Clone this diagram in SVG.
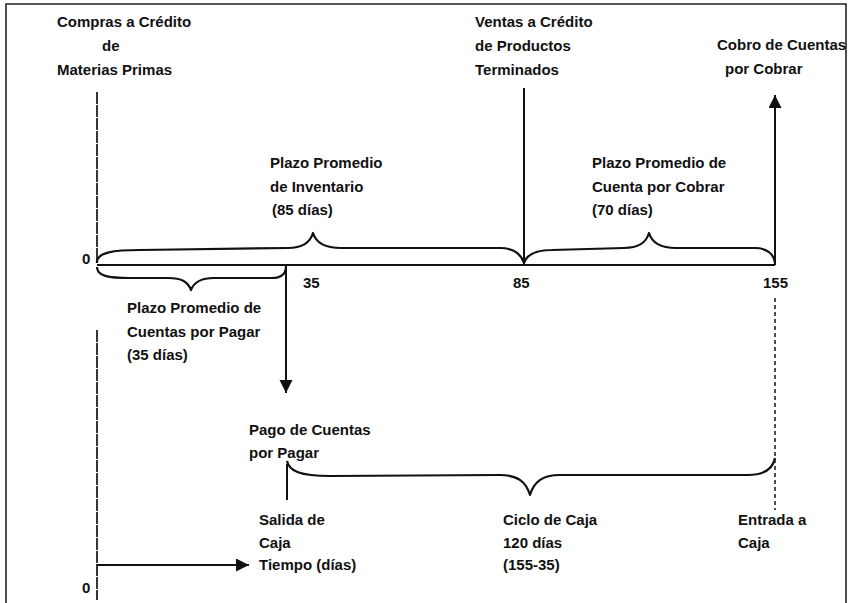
<svg xmlns="http://www.w3.org/2000/svg" width="854" height="603" viewBox="0 0 854 603">
  <defs>
    <style>
      .t { font-family: "Liberation Sans", Arial, sans-serif; font-size: 15px; font-weight: bold; fill: #111; }
      .ln { stroke: #111; stroke-width: 2; fill: none; }
      .br { stroke: #111; stroke-width: 2.2; fill: none; stroke-linejoin: round; }
      .dash { stroke: #222; stroke-width: 1.6; fill: none; stroke-dasharray: 4 3; }
      .axis { stroke: #222; stroke-width: 1.8; fill: none; stroke-dasharray: 12 1; }
      .frame { stroke: #222; stroke-width: 1.6; fill: none; }
    </style>
    <marker id="arrow" markerUnits="userSpaceOnUse" markerWidth="14" markerHeight="14" refX="13" refY="6.5" orient="auto">
      <path d="M0,0 L13,6.5 L0,13 z" fill="#111"/>
    </marker>
  </defs>
  <rect width="854" height="603" fill="#fff"/>

  <g id="frame">
    <path class="frame" d="M6,603 L6,4 L846,4 L846,603"/>
  </g>

  <g id="connectors">
    <line class="axis" x1="97" y1="92" x2="97" y2="262"/>
    <line class="axis" x1="97" y1="330" x2="97" y2="600"/>
    <line class="ln" x1="97" y1="265" x2="775" y2="265"/>
    <path class="br" d="M97,263 C96,252 115,250 140,250 L288,248 C302,248 310,243 313,233 C316,243 326,248 341,248 L500,248 C514,248 521,254 524,263"/>
    <path class="br" d="M524,263 C527,254 536,250 552,250 L624,248 C639,248 646,243 649,233 C652,243 661,248 676,248 L755,248 C768,248 774,255 775,263"/>
    <path class="br" d="M97,267 C97,276 108,278 130,278 L168,278 C182,278 188,282 191,290 C194,282 201,278 214,278 L272,278 C282,278 286,273 286,266"/>
    <line class="ln" x1="524" y1="88" x2="524" y2="265"/>
    <line class="ln" x1="775" y1="265" x2="775" y2="95" marker-end="url(#arrow)"/>
    <line class="ln" x1="286" y1="265" x2="286" y2="393" marker-end="url(#arrow)"/>
    <path class="br" d="M287,461 C289,471 300,476 330,476 L500,475 C518,475 526,482 530,495 C534,482 542,475 560,475 L748,475 C765,475 773,468 775,458"/>
    <line class="ln" x1="287" y1="464" x2="287" y2="500"/>
    <line class="dash" x1="775" y1="298" x2="775" y2="510"/>
    <line class="ln" x1="97" y1="565" x2="249" y2="565" marker-end="url(#arrow)"/>
  </g>

  <g id="compras">
    <text class="t" x="57" y="27">Compras a Crédito</text>
    <text class="t" x="102" y="51">de</text>
    <text class="t" x="57" y="75">Materias Primas</text>
  </g>
  <g id="ventas">
    <text class="t" x="475" y="27">Ventas a Crédito</text>
    <text class="t" x="475" y="51">de Productos</text>
    <text class="t" x="475" y="75">Terminados</text>
  </g>
  <g id="cobro">
    <text class="t" x="717" y="50">Cobro de Cuentas</text>
    <text class="t" x="725" y="74">por Cobrar</text>
  </g>
  <g id="plazo-inventario">
    <text class="t" x="270" y="168">Plazo Promedio</text>
    <text class="t" x="270" y="192">de Inventario</text>
    <text class="t" x="272" y="215">(85 días)</text>
  </g>
  <g id="plazo-cobrar">
    <text class="t" x="592" y="168">Plazo Promedio de</text>
    <text class="t" x="592" y="192">Cuenta por Cobrar</text>
    <text class="t" x="592" y="215">(70 días)</text>
  </g>
  <g id="ticks">
    <text class="t" x="82" y="264">0</text>
    <text class="t" x="303" y="288">35</text>
    <text class="t" x="513" y="288">85</text>
    <text class="t" x="763" y="288">155</text>
    <text class="t" x="82" y="593">0</text>
  </g>
  <g id="plazo-pagar">
    <text class="t" x="127" y="313">Plazo Promedio de</text>
    <text class="t" x="127" y="337">Cuentas por Pagar</text>
    <text class="t" x="127" y="360">(35 días)</text>
  </g>
  <g id="pago">
    <text class="t" x="249" y="435">Pago de Cuentas</text>
    <text class="t" x="249" y="458">por Pagar</text>
  </g>
  <g id="salida">
    <text class="t" x="259" y="525">Salida de</text>
    <text class="t" x="259" y="548">Caja</text>
    <text class="t" x="259" y="570">Tiempo (días)</text>
  </g>
  <g id="ciclo">
    <text class="t" x="503" y="525">Ciclo de Caja</text>
    <text class="t" x="503" y="548">120 días</text>
    <text class="t" x="503" y="570">(155-35)</text>
  </g>
  <g id="entrada">
    <text class="t" x="738" y="525">Entrada a</text>
    <text class="t" x="738" y="548">Caja</text>
  </g>
</svg>
